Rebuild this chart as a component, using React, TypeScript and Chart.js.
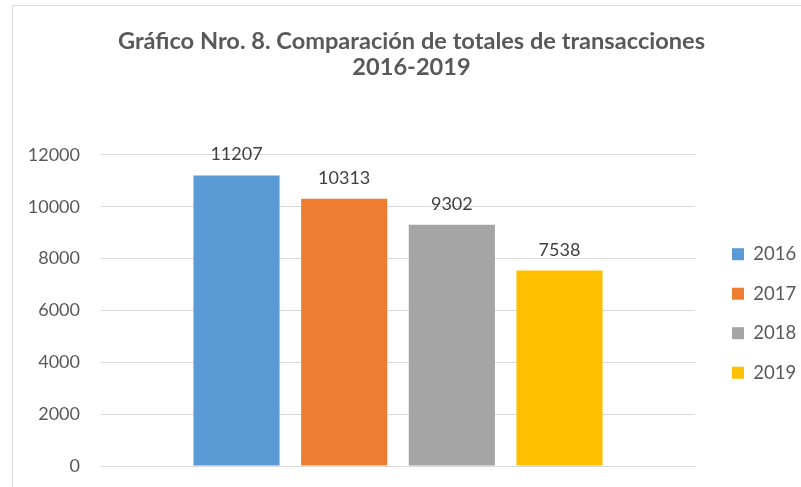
import React, { useEffect, useRef } from "react";
import { Chart, registerables } from "chart.js";

Chart.register(...registerables);

const titleLines = ["Gráfico Nro. 8. Comparación de totales de transacciones", "2016-2019"];
const categories = [""];
const seriesNames = ["2016", "2017", "2018", "2019"];
const seriesValues = [11207, 10313, 9302, 7538];
const seriesColors = ["#5B9BD5", "#ED7D31", "#A5A5A5", "#FFC000"];
const yTicks = [0, 2000, 4000, 6000, 8000, 10000, 12000];

const FONT = "Lato";
const TEXT = "#595959";

const layoutPlugin = {
  id: "layoutTweaks",
  beforeInit(chart: any) {
    const lg = chart.legend;
    if (lg && !lg.__wrapped) {
      const orig = lg.fit.bind(lg);
      lg.fit = function () {
        orig();
        this.width = 106;
      };
      lg.__wrapped = true;
    }
  },
  afterLayout(chart: any) {
    const lg = chart.legend;
    if (lg) {
      const w = lg.width;
      lg.left = 711;
      lg.right = 711 + w;
      lg.top = chart.chartArea.top + 3;
      lg.bottom = chart.chartArea.bottom + 3;
      lg.height = lg.bottom - lg.top;
    }
    const tb = chart.titleBlock;
    if (tb) {
      tb.left = 11.5;
      tb.right = 811.5;
      tb.width = 800;
    }
  },
};

const dataLabelPlugin = {
  id: "dataLabels",
  afterDatasetsDraw(chart: any) {
    const ctx = chart.ctx;
    ctx.save();
    ctx.font = `18px ${FONT}`;
    ctx.fillStyle = "#404040";
    ctx.textAlign = "center";
    ctx.textBaseline = "alphabetic";
    chart.data.datasets.forEach((ds: any, i: number) => {
      const meta = chart.getDatasetMeta(i);
      meta.data.forEach((el: any, j: number) => {
        ctx.fillText(String(ds.data[j]), el.x, el.y - 15);
      });
    });
    ctx.restore();
  },
};

export default function App() {
  const ref = useRef<HTMLCanvasElement>(null);
  useEffect(() => {
    document.body.style.margin = "0";
    const chart = new Chart(ref.current!, {
      type: "bar",
      data: {
        labels: categories,
        datasets: seriesNames.map((name, i) => ({
          label: name,
          data: [seriesValues[i]],
          backgroundColor: seriesColors[i],
          borderWidth: 0,
          categoryPercentage: 0.725,
          barPercentage: 0.8,
        })),
      },
      options: {
        animation: false,
        responsive: false,
        maintainAspectRatio: false,
        devicePixelRatio: 1,
        layout: { padding: { top: 0, right: 0, bottom: 21, left: 0 } },
        plugins: {
          tooltip: { enabled: false },
          title: {
            display: true,
            text: titleLines,
            color: TEXT,
            font: { family: FONT, size: 23.6, weight: "bold", lineHeight: 1.1 },
            padding: { top: 28, bottom: 75 },
          },
          legend: {
            display: true,
            position: "right",
            align: "center",
            labels: {
              boxWidth: 12,
              boxHeight: 12,
              padding: 21,
              color: TEXT,
              font: { family: FONT, size: 18.5 },
            },
          },
        },
        scales: {
          x: { display: false },
          y: {
            min: 0,
            max: 12000,
            afterFit(scale: any) {
              scale.width = 101;
              scale.paddingTop = 0;
              scale.paddingBottom = 0;
            },
            afterBuildTicks(scale: any) {
              scale.ticks = yTicks.map((v) => ({ value: v }));
            },
            grid: { color: "#D9D9D9", lineWidth: 1, drawTicks: false },
            border: { display: false },
            ticks: {
              padding: 21,
              color: TEXT,
              font: { family: FONT, size: 18 },
              callback: (v: any) => String(v),
            },
          },
        },
      },
      plugins: [layoutPlugin, dataLabelPlugin],
    });
    return () => chart.destroy();
  }, []);
  return (
    <div style={{ position: "relative", width: 801, height: 487, overflow: "hidden", background: "#fff" }}>
      <div
        style={{
          position: "absolute",
          left: 12,
          top: 5,
          width: 900,
          height: 600,
          border: "1px solid #D9D9D9",
        }}
      />
      <canvas ref={ref} width={801} height={487} style={{ position: "absolute", left: 0, top: 0, width: 801, height: 487 }} />
    </div>
  );
}
